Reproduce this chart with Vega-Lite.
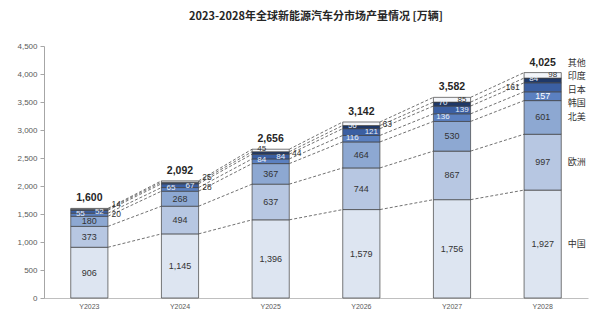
{
  "$schema": "https://vega.github.io/schema/vega-lite/v6.json",
  "width": 544,
  "height": 252,
  "autosize": "none",
  "padding": {"left": 44, "top": 46, "right": 12, "bottom": 24},
  "background": "white",
  "title": {"text": "2023-2028年全球新能源汽车分市场产量情况 [万辆]", "font": "Noto Sans CJK SC", "fontSize": 11, "fontWeight": "bold", "color": "#262626", "anchor": "middle", "offset": 20},
  "config": {
    "view": {"stroke": null},
    "axis": {"grid": false, "title": null, "labelFont": "Liberation Sans", "labelColor": "#595959", "domainColor": "#a6a6a6", "tickColor": "#a6a6a6"},
    "text": {"font": "Liberation Sans", "fontSize": 8.5, "color": "#333333"}
  },
  "datasets": {
    "seg": [
      {"year": "Y2023", "series": "中国", "ord": 1, "value": 906},
      {"year": "Y2024", "series": "中国", "ord": 1, "value": 1145},
      {"year": "Y2025", "series": "中国", "ord": 1, "value": 1396},
      {"year": "Y2026", "series": "中国", "ord": 1, "value": 1579},
      {"year": "Y2027", "series": "中国", "ord": 1, "value": 1756},
      {"year": "Y2028", "series": "中国", "ord": 1, "value": 1927},
      {"year": "Y2023", "series": "欧洲", "ord": 2, "value": 373},
      {"year": "Y2024", "series": "欧洲", "ord": 2, "value": 494},
      {"year": "Y2025", "series": "欧洲", "ord": 2, "value": 637},
      {"year": "Y2026", "series": "欧洲", "ord": 2, "value": 744},
      {"year": "Y2027", "series": "欧洲", "ord": 2, "value": 867},
      {"year": "Y2028", "series": "欧洲", "ord": 2, "value": 997},
      {"year": "Y2023", "series": "北美", "ord": 3, "value": 180},
      {"year": "Y2024", "series": "北美", "ord": 3, "value": 268},
      {"year": "Y2025", "series": "北美", "ord": 3, "value": 367},
      {"year": "Y2026", "series": "北美", "ord": 3, "value": 464},
      {"year": "Y2027", "series": "北美", "ord": 3, "value": 530},
      {"year": "Y2028", "series": "北美", "ord": 3, "value": 601},
      {"year": "Y2023", "series": "韩国", "ord": 4, "value": 55},
      {"year": "Y2024", "series": "韩国", "ord": 4, "value": 65},
      {"year": "Y2025", "series": "韩国", "ord": 4, "value": 84},
      {"year": "Y2026", "series": "韩国", "ord": 4, "value": 116},
      {"year": "Y2027", "series": "韩国", "ord": 4, "value": 136},
      {"year": "Y2028", "series": "韩国", "ord": 4, "value": 157},
      {"year": "Y2023", "series": "日本", "ord": 5, "value": 52},
      {"year": "Y2024", "series": "日本", "ord": 5, "value": 67},
      {"year": "Y2025", "series": "日本", "ord": 5, "value": 84},
      {"year": "Y2026", "series": "日本", "ord": 5, "value": 121},
      {"year": "Y2027", "series": "日本", "ord": 5, "value": 139},
      {"year": "Y2028", "series": "日本", "ord": 5, "value": 161},
      {"year": "Y2023", "series": "印度", "ord": 6, "value": 20},
      {"year": "Y2024", "series": "印度", "ord": 6, "value": 28},
      {"year": "Y2025", "series": "印度", "ord": 6, "value": 44},
      {"year": "Y2026", "series": "印度", "ord": 6, "value": 56},
      {"year": "Y2027", "series": "印度", "ord": 6, "value": 70},
      {"year": "Y2028", "series": "印度", "ord": 6, "value": 84},
      {"year": "Y2023", "series": "其他", "ord": 7, "value": 14},
      {"year": "Y2024", "series": "其他", "ord": 7, "value": 25},
      {"year": "Y2025", "series": "其他", "ord": 7, "value": 45},
      {"year": "Y2026", "series": "其他", "ord": 7, "value": 63},
      {"year": "Y2027", "series": "其他", "ord": 7, "value": 85},
      {"year": "Y2028", "series": "其他", "ord": 7, "value": 98}
    ],
    "tot": [
      {"year": "Y2023", "total": 1600},
      {"year": "Y2024", "total": 2092},
      {"year": "Y2025", "total": 2656},
      {"year": "Y2026", "total": 3142},
      {"year": "Y2027", "total": 3582},
      {"year": "Y2028", "total": 4025}
    ]
  },
  "layer": [
    {
      "data": {"name": "seg"},
      "transform": [{"stack": "value", "groupby": ["year"], "sort": [{"field": "ord", "order": "ascending"}], "as": ["y0", "y1"]}],
      "layer": [
        {
          "mark": {"type": "bar", "stroke": "#404040", "strokeWidth": 0.7},
          "encoding": {
            "x": {"field": "year", "type": "nominal", "sort": null, "scale": {"paddingInner": 0.59, "paddingOuter": 0.295}, "axis": {"labelAngle": 0, "labelFontSize": 7, "ticks": false, "labelPadding": 4, "domainColor": "#bfbfbf"}},
            "y": {"field": "y1", "type": "quantitative", "scale": {"domain": [0, 4500], "nice": false, "zero": true}, "axis": {"values": [0, 500, 1000, 1500, 2000, 2500, 3000, 3500, 4000, 4500], "format": ",.0f", "labelFontSize": 8, "tickSize": 4, "labelPadding": 3}},
            "y2": {"field": "y0"},
            "color": {"field": "series", "type": "nominal", "legend": null, "scale": {"domain": ["中国", "欧洲", "北美", "韩国", "日本", "印度", "其他"], "range": ["#dde5f1", "#b7c7e2", "#8da8d2", "#5b80c0", "#3b5fa2", "#1f3868", "#f4f6fa"]}}
          }
        },
        {
          "transform": [
            {"window": [{"op": "lead", "field": "y1", "as": "ny1"}, {"op": "lead", "field": "year", "as": "nyear"}], "groupby": ["series"], "sort": [{"field": "year", "order": "ascending"}]},
            {"filter": "datum.nyear != null"}
          ],
          "mark": {"type": "rule", "strokeDash": [3, 2], "color": "#4d4d4d", "strokeWidth": 0.8},
          "encoding": {
            "x": {"field": "year", "type": "nominal", "bandPosition": 1},
            "x2": {"field": "nyear", "bandPosition": 0},
            "y": {"field": "y1", "type": "quantitative", "scale": {"domain": [0, 4500], "nice": false, "zero": true}, "axis": {"values": [0, 500, 1000, 1500, 2000, 2500, 3000, 3500, 4000, 4500], "format": ",.0f", "labelFontSize": 8, "tickSize": 4, "labelPadding": 3}},
            "y2": {"field": "ny1"}
          }
        },
        {
          "transform": [
            {"fold": ["y0", "y1"], "as": ["edge", "pos"]},
            {"aggregate": [{"op": "mean", "field": "pos", "as": "ymid"}], "groupby": ["year", "series", "value"]}
          ],
          "layer": [
            {
              "transform": [{"filter": "indexof(['中国','欧洲','北美'], datum.series) >= 0 || (datum.series == '韩国' && datum.year == 'Y2028')"}],
              "mark": {"type": "text", "fontSize": 9},
              "encoding": {
                "x": {"field": "year", "type": "nominal"},
                "y": {"field": "ymid", "type": "quantitative", "scale": {"domain": [0, 4500], "nice": false, "zero": true}, "axis": {"values": [0, 500, 1000, 1500, 2000, 2500, 3000, 3500, 4000, 4500], "format": ",.0f", "labelFontSize": 8, "tickSize": 4, "labelPadding": 3}},
                "text": {"field": "value", "format": ","},
                "color": {"condition": {"test": "datum.series == '韩国'", "value": "white"}, "value": "#333333"}
              }
            },
            {
              "transform": [{"filter": "(datum.series == '韩国' && datum.year != 'Y2028') || (datum.series == '印度' && indexof(['Y2026','Y2027','Y2028'], datum.year) >= 0) || (datum.series == '其他' && datum.year == 'Y2025')"}],
              "mark": {"type": "text", "dx": -9, "dy": -1, "fontSize": 8},
              "encoding": {
                "x": {"field": "year", "type": "nominal"},
                "y": {"field": "ymid", "type": "quantitative", "scale": {"domain": [0, 4500], "nice": false, "zero": true}, "axis": {"values": [0, 500, 1000, 1500, 2000, 2500, 3000, 3500, 4000, 4500], "format": ",.0f", "labelFontSize": 8, "tickSize": 4, "labelPadding": 3}},
                "text": {"field": "value", "format": ","},
                "color": {"condition": {"test": "datum.series == '其他'", "value": "#333333"}, "value": "#e8eef8"}
              }
            },
            {
              "transform": [{"filter": "(datum.series == '日本' && datum.year != 'Y2028') || (datum.series == '其他' && indexof(['Y2027','Y2028'], datum.year) >= 0)"}],
              "mark": {"type": "text", "dx": 10, "fontSize": 8},
              "encoding": {
                "x": {"field": "year", "type": "nominal"},
                "y": {"field": "ymid", "type": "quantitative", "scale": {"domain": [0, 4500], "nice": false, "zero": true}, "axis": {"values": [0, 500, 1000, 1500, 2000, 2500, 3000, 3500, 4000, 4500], "format": ",.0f", "labelFontSize": 8, "tickSize": 4, "labelPadding": 3}},
                "text": {"field": "value", "format": ","},
                "color": {"condition": {"test": "datum.series == '其他'", "value": "#333333"}, "value": "#e8eef8"}
              }
            },
            {
              "transform": [{"filter": "datum.series == '其他' && indexof(['Y2023','Y2024'], datum.year) >= 0"}],
              "mark": {"type": "text", "dx": 27, "dy": -5},
              "encoding": {
                "x": {"field": "year", "type": "nominal"},
                "y": {"field": "ymid", "type": "quantitative", "scale": {"domain": [0, 4500], "nice": false, "zero": true}, "axis": {"values": [0, 500, 1000, 1500, 2000, 2500, 3000, 3500, 4000, 4500], "format": ",.0f", "labelFontSize": 8, "tickSize": 4, "labelPadding": 3}},
                "text": {"field": "value", "format": ","}
              }
            },
            {
              "transform": [{"filter": "datum.series == '印度' && indexof(['Y2023','Y2024'], datum.year) >= 0"}],
              "mark": {"type": "text", "dx": 27, "dy": 4},
              "encoding": {
                "x": {"field": "year", "type": "nominal"},
                "y": {"field": "ymid", "type": "quantitative", "scale": {"domain": [0, 4500], "nice": false, "zero": true}, "axis": {"values": [0, 500, 1000, 1500, 2000, 2500, 3000, 3500, 4000, 4500], "format": ",.0f", "labelFontSize": 8, "tickSize": 4, "labelPadding": 3}},
                "text": {"field": "value", "format": ","}
              }
            },
            {
              "transform": [{"filter": "(datum.series == '印度' && datum.year == 'Y2025') || (datum.series == '其他' && datum.year == 'Y2026')"}],
              "mark": {"type": "text", "dx": 26},
              "encoding": {
                "x": {"field": "year", "type": "nominal"},
                "y": {"field": "ymid", "type": "quantitative", "scale": {"domain": [0, 4500], "nice": false, "zero": true}, "axis": {"values": [0, 500, 1000, 1500, 2000, 2500, 3000, 3500, 4000, 4500], "format": ",.0f", "labelFontSize": 8, "tickSize": 4, "labelPadding": 3}},
                "text": {"field": "value", "format": ","}
              }
            },
            {
              "transform": [{"filter": "datum.series == '日本' && datum.year == 'Y2028'"}],
              "mark": {"type": "text", "dx": -30},
              "encoding": {
                "x": {"field": "year", "type": "nominal"},
                "y": {"field": "ymid", "type": "quantitative", "scale": {"domain": [0, 4500], "nice": false, "zero": true}, "axis": {"values": [0, 500, 1000, 1500, 2000, 2500, 3000, 3500, 4000, 4500], "format": ",.0f", "labelFontSize": 8, "tickSize": 4, "labelPadding": 3}},
                "text": {"field": "value", "format": ","}
              }
            },
            {
              "transform": [{"filter": "datum.year == 'Y2028' && indexof(['中国','欧洲','北美'], datum.series) >= 0"}],
              "mark": {"type": "text", "align": "left", "dx": 25, "font": "Noto Sans CJK SC", "fontSize": 9},
              "encoding": {
                "x": {"field": "year", "type": "nominal"},
                "y": {"field": "ymid", "type": "quantitative", "scale": {"domain": [0, 4500], "nice": false, "zero": true}, "axis": {"values": [0, 500, 1000, 1500, 2000, 2500, 3000, 3500, 4000, 4500], "format": ",.0f", "labelFontSize": 8, "tickSize": 4, "labelPadding": 3}},
                "text": {"field": "series"}
              }
            },
            {
              "transform": [{"filter": "datum.year == 'Y2028' && datum.series == '韩国'"}],
              "mark": {"type": "text", "align": "left", "dx": 25, "dy": 7, "font": "Noto Sans CJK SC", "fontSize": 9},
              "encoding": {
                "x": {"field": "year", "type": "nominal"},
                "y": {"field": "ymid", "type": "quantitative", "scale": {"domain": [0, 4500], "nice": false, "zero": true}, "axis": {"values": [0, 500, 1000, 1500, 2000, 2500, 3000, 3500, 4000, 4500], "format": ",.0f", "labelFontSize": 8, "tickSize": 4, "labelPadding": 3}},
                "text": {"field": "series"}
              }
            },
            {
              "transform": [{"filter": "datum.year == 'Y2028' && datum.series == '日本'"}],
              "mark": {"type": "text", "align": "left", "dx": 25, "dy": 3, "font": "Noto Sans CJK SC", "fontSize": 9},
              "encoding": {
                "x": {"field": "year", "type": "nominal"},
                "y": {"field": "ymid", "type": "quantitative", "scale": {"domain": [0, 4500], "nice": false, "zero": true}, "axis": {"values": [0, 500, 1000, 1500, 2000, 2500, 3000, 3500, 4000, 4500], "format": ",.0f", "labelFontSize": 8, "tickSize": 4, "labelPadding": 3}},
                "text": {"field": "series"}
              }
            },
            {
              "transform": [{"filter": "datum.year == 'Y2028' && datum.series == '印度'"}],
              "mark": {"type": "text", "align": "left", "dx": 25, "dy": -4, "font": "Noto Sans CJK SC", "fontSize": 9},
              "encoding": {
                "x": {"field": "year", "type": "nominal"},
                "y": {"field": "ymid", "type": "quantitative", "scale": {"domain": [0, 4500], "nice": false, "zero": true}, "axis": {"values": [0, 500, 1000, 1500, 2000, 2500, 3000, 3500, 4000, 4500], "format": ",.0f", "labelFontSize": 8, "tickSize": 4, "labelPadding": 3}},
                "text": {"field": "series"}
              }
            },
            {
              "transform": [{"filter": "datum.year == 'Y2028' && datum.series == '其他'"}],
              "mark": {"type": "text", "align": "left", "dx": 25, "dy": -12, "font": "Noto Sans CJK SC", "fontSize": 9},
              "encoding": {
                "x": {"field": "year", "type": "nominal"},
                "y": {"field": "ymid", "type": "quantitative", "scale": {"domain": [0, 4500], "nice": false, "zero": true}, "axis": {"values": [0, 500, 1000, 1500, 2000, 2500, 3000, 3500, 4000, 4500], "format": ",.0f", "labelFontSize": 8, "tickSize": 4, "labelPadding": 3}},
                "text": {"field": "series"}
              }
            }
          ]
        }
      ]
    },
    {
      "data": {"name": "tot"},
      "mark": {"type": "text", "fontWeight": "bold", "fontSize": 10.5, "dy": -10, "color": "#262626"},
      "encoding": {
        "x": {"field": "year", "type": "nominal"},
        "y": {"field": "total", "type": "quantitative", "scale": {"domain": [0, 4500], "nice": false, "zero": true}, "axis": {"values": [0, 500, 1000, 1500, 2000, 2500, 3000, 3500, 4000, 4500], "format": ",.0f", "labelFontSize": 8, "tickSize": 4, "labelPadding": 3}},
        "text": {"field": "total", "format": ","}
      }
    }
  ]
}
